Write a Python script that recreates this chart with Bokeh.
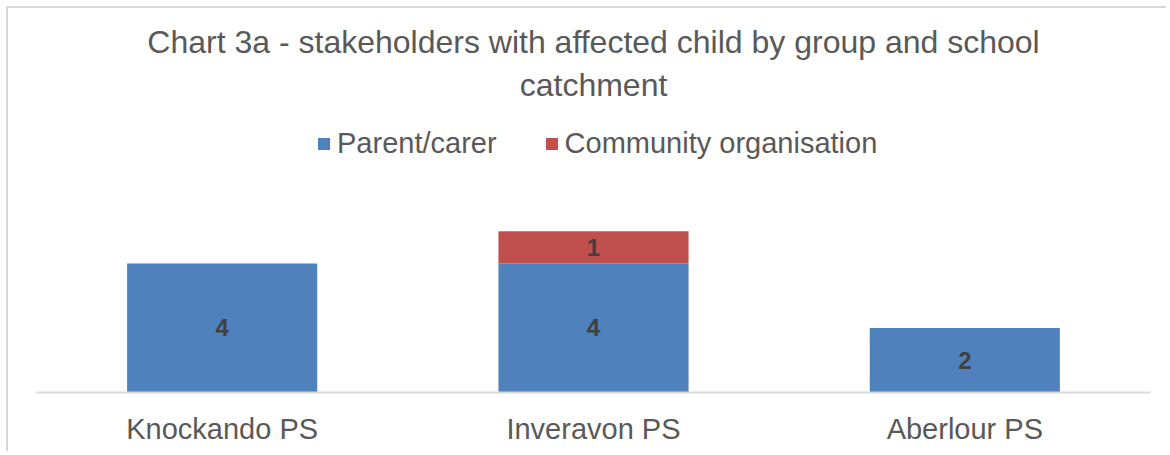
from bokeh.plotting import figure
from bokeh.models import FactorRange, Range1d, Title, Legend, LegendItem, ColumnDataSource
from bokeh.core.properties import value
from bokeh.embed import file_html
from bokeh.resources import INLINE

# ---- data ----
categories = ["Knockando PS", "Inveravon PS", "Aberlour PS"]
parent_carer = [4, 4, 2]
community_org = [0, 1, 0]
series_keys = ["parent_carer", "community_org"]
series_names = ["Parent/carer", "Community organisation"]
colors = ["#4F81BD", "#C0504D"]
title_lines = ["Chart 3a - stakeholders with affected child by group and school", "catchment"]

FONT = "Liberation Sans"
TXT = "#595959"

src = ColumnDataSource(dict(cat=categories, parent_carer=parent_carer, community_org=community_org))

p = figure(x_range=FactorRange(*categories, range_padding=0),
           y_range=Range1d(0, 8.74),
           width=1160, height=445, output_backend="svg", toolbar_location=None,
           min_border_left=28, min_border_right=18, min_border_bottom=61, min_border_top=102)
p.title = None

rs = p.vbar_stack(series_keys, x="cat", width=0.512, color=colors, line_color=None, source=src)

# data labels at segment middles
lx, ly, lt = [], [], []
series_vals = [parent_carer, community_org]
for i, c in enumerate(categories):
    bottom = 0
    for vals in series_vals:
        v = vals[i]
        if v:
            lx.append(c)
            ly.append(bottom + v / 2)
            lt.append(str(v))
        bottom += v
p.text(x=lx, y=ly, text=lt, text_align="center", text_baseline="middle",
       text_font=value(FONT), text_font_style="bold", text_font_size="24px", text_color="#404040")

legend = Legend(items=[LegendItem(label=n, renderers=[r]) for n, r in zip(series_names, rs)],
                orientation="horizontal", location=(280, 232),
                label_text_font=FONT, label_text_font_size="29px", label_text_color=TXT,
                glyph_width=15, glyph_height=15, spacing=47, label_standoff=6,
                padding=0, margin=0, border_line_color=None, background_fill_alpha=0)
p.add_layout(legend)

standoffs = {title_lines[0]: -6, title_lines[1]: 16}
for line in reversed(title_lines):
    p.add_layout(Title(text=line, align="center", text_font=FONT, text_font_size="32px",
                       text_font_style="normal", text_color=TXT, standoff=standoffs[line]), "above")

p.xaxis.axis_line_color = "#D9D9D9"
p.xaxis.axis_line_width = 2
p.xaxis.major_tick_line_color = None
p.xaxis.minor_tick_line_color = None
p.xaxis.major_label_text_font = FONT
p.xaxis.major_label_text_font_size = "29px"
p.xaxis.major_label_text_color = TXT
p.xaxis.major_label_standoff = 14
p.yaxis.visible = False
p.xgrid.visible = False
p.ygrid.visible = False
p.outline_line_color = None
p.styles = {"margin-left": "6px", "margin-top": "6px",
            "border-left": "2px solid #d9d9d9", "border-top": "2px solid #d9d9d9"}

open("out.html", "w").write(file_html(p, INLINE))
